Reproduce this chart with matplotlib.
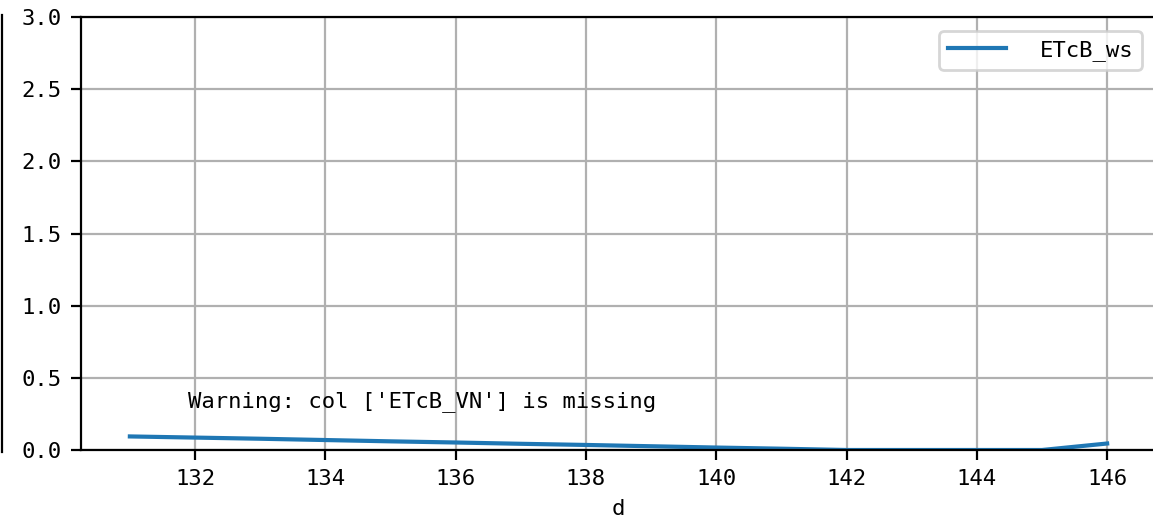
"""Recreate the ETcB_ws line chart."""
import matplotlib.pyplot as plt
from matplotlib.lines import Line2D

days = [131, 132, 133, 134, 135, 136, 137, 138, 139, 140, 141, 142, 143, 144, 145, 146]
etcb_ws = [0.094, 0.086, 0.078, 0.069, 0.060, 0.052, 0.043, 0.035, 0.026, 0.017,
           0.009, 0.0, 0.0, 0.0, 0.0, 0.045]
xticks = [132, 134, 136, 138, 140, 142, 144, 146]
yticks = [0.0, 0.5, 1.0, 1.5, 2.0, 2.5, 3.0]
warning = "Warning: col ['ETcB_VN'] is missing"


def main():
    """Main."""
    plt.rcParams["font.family"] = ["DejaVu Sans Mono"]
    plt.rcParams["font.size"] = 8

    fig = plt.figure(figsize=(1153 / 200, 523 / 200), dpi=200)
    W, H = 1153, 523
    ax = fig.add_axes([81 / W, 1 - 450 / H, (1156 - 81) / W, (450 - 17) / H])

    ax.plot(days, etcb_ws, color="#1f77b4", lw=1.5, label="ETcB_ws")
    ax.set_ylim(0, 3.0)
    ax.set_xticks(xticks)
    ax.set_yticks(yticks)
    ax.set_xlabel("d", labelpad=3.5)
    ax.grid(True)
    ax.spines["right"].set_visible(False)
    ax.text(0.1, 0.1, warning, transform=ax.transAxes)
    ax.legend(loc="upper right", handlelength=2.6, handletextpad=1.5,
              bbox_to_anchor=(1 - 3 / 1075, 1 - 3 / 433))

    # cut-off edge on the far left
    fig.add_artist(Line2D([2 / W, 2 / W], [1 - 452 / H, 1 - 15 / H],
                          transform=fig.transFigure, color="black", lw=0.8))

    fig.savefig("out.png", dpi=200)
    plt.close(fig)


if __name__ == "__main__":
    main()
